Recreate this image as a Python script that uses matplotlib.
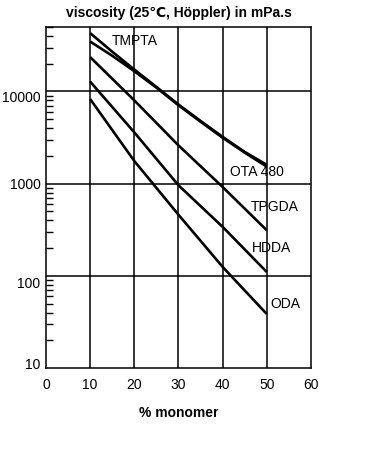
import matplotlib
matplotlib.use("Agg")
import matplotlib.pyplot as plt
import matplotlib.transforms as mtransforms
from matplotlib.ticker import LogLocator, NullFormatter, FixedLocator

plt.rcParams['font.family'] = ['Liberation Sans', 'DejaVu Sans']

# % monomer
monomer = [10, 20, 30, 40, 50]
monomer_fine = [10, 15, 20, 25, 30, 35, 40, 45, 50]

# viscosity in mPa.s
# the two top curves bend a little, so they get more points
tmpta = [43000, 27000, 17300, 11200, 7220, 4790, 3220, 2210, 1600]
ota480 = [34800, 24400, 16600, 11000, 7080, 4700, 3150, 2170, 1530]
tpgda = [23600, 8000, 2600, 920, 312]
hdda = [12800, 3600, 960, 340, 110]
oda = [8280, 1760, 460, 125, 38.5]

names = ["TMPTA", "OTA 480", "TPGDA", "HDDA", "ODA"]
series = [(monomer_fine, tmpta), (monomer_fine, ota480),
          (monomer, tpgda), (monomer, hdda), (monomer, oda)]
label_pos = [(14.9, 35200), (41.7, 1340), (46.4, 555), (46.6, 200), (50.7, 49)]

xticks = [0, 10, 20, 30, 40, 50, 60]
yticks = [10, 100, 1000, 10000]
# the scanned labels do not sit exactly on their grid lines (pixels, + = down)
ylab_shift = [-5, 7, 0, 5]

fig = plt.figure(figsize=(3.68, 4.51), dpi=100)
ax = fig.add_axes([0.125, 0.184, 0.72, 0.756])

for xs, vals in series:
    ax.plot(xs, vals, color="black", lw=1.9, solid_capstyle="butt")

for name, (x, y) in zip(names, label_pos):
    ax.text(x, y, name, fontsize=10, ha="left", va="center")

ax.set_yscale("log")
ax.set_xlim(0, 60)
ax.set_ylim(10, 50000)

ax.xaxis.set_major_locator(FixedLocator(xticks))
ax.set_xticklabels([str(t) for t in xticks])
ax.yaxis.set_major_locator(FixedLocator(yticks))
ax.set_yticklabels([str(t) for t in yticks])
ax.yaxis.set_minor_locator(LogLocator(base=10, subs=range(2, 10)))
ax.yaxis.set_minor_formatter(NullFormatter())

ax.tick_params(axis="x", which="major", length=0, pad=7, labelsize=10)
ax.tick_params(axis="y", which="major", length=0, pad=4, labelsize=10)
ax.tick_params(axis="y", which="minor", direction="in", length=5, width=1)

for lab, d in zip(ax.get_yticklabels(), ylab_shift):
    off = mtransforms.ScaledTranslation(0, -d / 100, fig.dpi_scale_trans)
    lab.set_transform(lab.get_transform() + off)

for x in [10, 20, 30, 40, 50]:
    ax.axvline(x, color="black", lw=1.1)
for y in [100, 1000, 10000]:
    ax.axhline(y, color="black", lw=1.1)

for sp in ax.spines.values():
    sp.set_linewidth(1.1)

ax.set_title("viscosity (25\u2103, Höppler) in mPa.s", fontsize=10,
             fontweight="bold", pad=7)
ax.set_xlabel("% monomer", fontsize=10, fontweight="bold", labelpad=10)

fig.savefig("out.png", dpi=100, facecolor="white")
